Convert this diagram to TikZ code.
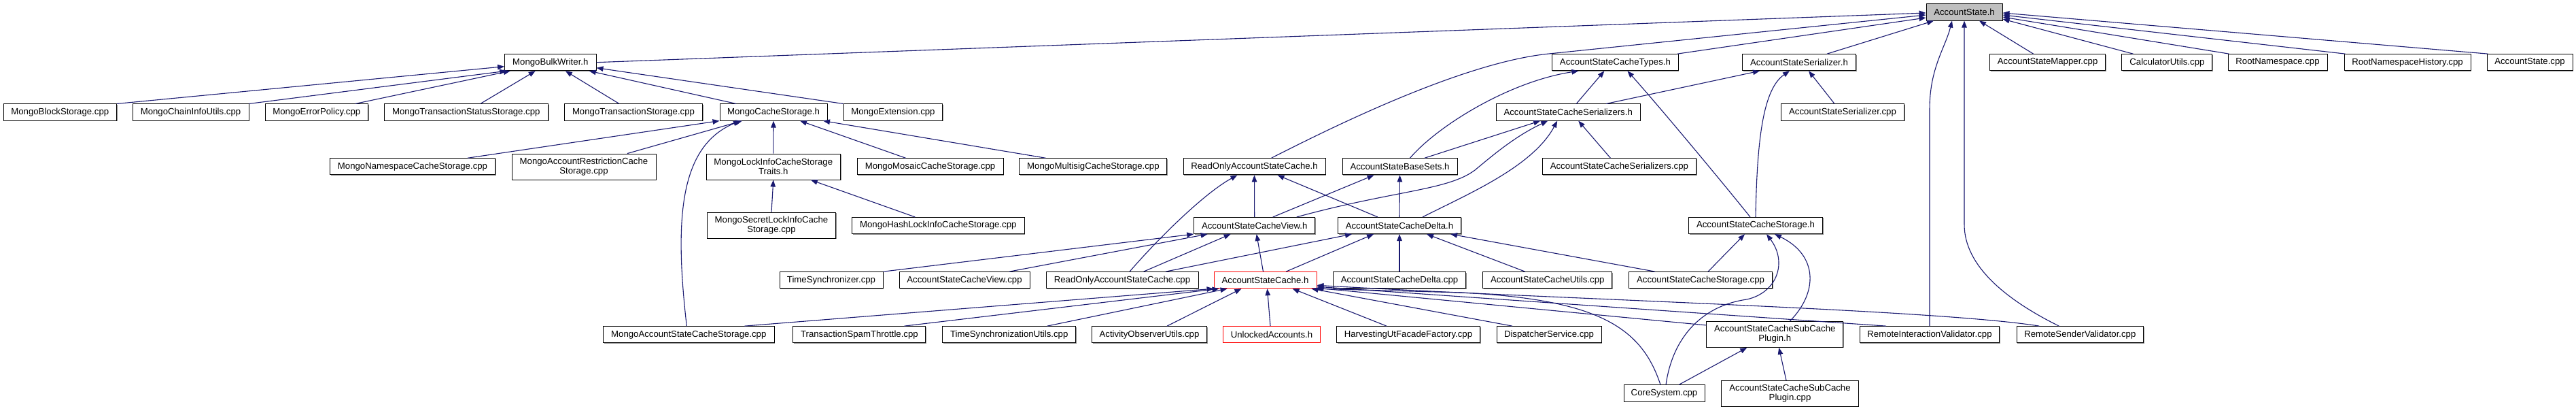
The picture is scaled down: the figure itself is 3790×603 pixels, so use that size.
\documentclass[tikz,border=0pt]{standalone}
\usepackage{fontspec}
\setmainfont{Liberation Sans}
\usetikzlibrary{arrows.meta,shadows}
\definecolor{edgeblue}{RGB}{25,25,112}
\definecolor{rootgray}{RGB}{191,191,191}
\tikzset{
  ndplain/.style={draw=black, line width=0.9pt, fill=white, inner sep=0pt,
    minimum height=24.2pt, font=\fontsize{13.2}{14}\selectfont, align=center},
  nd/.style={ndplain, general shadow={fill=black!45, shadow xshift=1pt, shadow yshift=-1pt}},
  ndtwo/.style={nd, minimum height=38pt},
  redn/.style={ndplain, draw=red},
  rootn/.style={nd, fill=rootgray},
  conn/.style={draw=edgeblue, line width=1.1pt, -{Triangle[length=10pt,width=7.5pt]}}
}
\begin{document}
\begin{tikzpicture}[x=1pt,y=-1pt]
\useasboundingbox (0,0) rectangle (3790,603);
% row 0
\node[rootn, minimum width=112pt] (root) at (2890,18) {AccountState.h};
% row 1
\node[nd, minimum width=134.5pt] (bulk) at (809.8,91.7) {MongoBulkWriter.h};
\node[nd, minimum width=186pt] (types) at (2376.4,91.7) {AccountStateCacheTypes.h};
\node[nd, minimum width=167pt] (ser) at (2647,91.7) {AccountStateSerializer.h};
\node[nd, minimum width=170pt] (mapper) at (3012.6,91.7) {AccountStateMapper.cpp};
\node[nd, minimum width=133pt] (calc) at (3188.4,91.7) {CalculatorUtils.cpp};
\node[nd, minimum width=146pt] (rootns) at (3351,91.7) {RootNamespace.cpp};
\node[nd, minimum width=186pt] (rootnsh) at (3542,91.7) {RootNamespaceHistory.cpp};
\node[nd, minimum width=126pt] (ascpp) at (3722,91.7) {AccountState.cpp};
% row 2
\node[nd, minimum width=166.5pt] (mblock) at (88.3,165) {MongoBlockStorage.cpp};
\node[nd, minimum width=171pt] (mchain) at (280.5,165) {MongoChainInfoUtils.cpp};
\node[nd, minimum width=151.5pt] (merr) at (465.8,165) {MongoErrorPolicy.cpp};
\node[nd, minimum width=241.6pt] (mtss) at (685.8,165) {MongoTransactionStatusStorage.cpp};
\node[nd, minimum width=203pt] (mts) at (932,165) {MongoTransactionStorage.cpp};
\node[nd, minimum width=158pt] (mcache) at (1138,165) {MongoCacheStorage.h};
\node[nd, minimum width=145.7pt] (mext) at (1313.9,165) {MongoExtension.cpp};
\node[nd, minimum width=212.4pt] (sers) at (2307.2,165) {AccountStateCacheSerializers.h};
\node[nd, minimum width=181pt] (sercpp) at (2711,165) {AccountStateSerializer.cpp};
% row 3
\node[nd, minimum width=243pt] (mns) at (607,244.8) {MongoNamespaceCacheStorage.cpp};
\node[ndtwo, minimum width=212pt] (mar) at (859,245) {MongoAccountRestrictionCache\\Storage.cpp};
\node[ndtwo, minimum width=197.5pt] (mlock) at (1137.8,245) {MongoLockInfoCacheStorage\\Traits.h};
\node[nd, minimum width=215pt] (mmos) at (1368.5,244.8) {MongoMosaicCacheStorage.cpp};
\node[nd, minimum width=217pt] (mmul) at (1608.4,244.8) {MongoMultisigCacheStorage.cpp};
\node[nd, minimum width=209pt] (roh) at (1845.5,244.8) {ReadOnlyAccountStateCache.h};
\node[nd, minimum width=169pt] (base) at (2059.5,244.8) {AccountStateBaseSets.h};
\node[nd, minimum width=226.7pt] (serscpp) at (2382.4,244.8) {AccountStateCacheSerializers.cpp};
% row 4
\node[ndtwo, minimum width=189pt] (msecret) at (1135,331) {MongoSecretLockInfoCache\\Storage.cpp};
\node[nd, minimum width=253.5pt] (mhash) at (1380.3,331.5) {MongoHashLockInfoCacheStorage.cpp};
\node[nd, minimum width=178pt] (view) at (1845.7,331.5) {AccountStateCacheView.h};
\node[nd, minimum width=181pt] (delta) at (2059,331.5) {AccountStateCacheDelta.h};
\node[nd, minimum width=197pt] (storage) at (2583,331.5) {AccountStateCacheStorage.h};
% row 5
\node[nd, minimum width=152pt] (tsync) at (1223,411.7) {TimeSynchronizer.cpp};
\node[nd, minimum width=192pt] (viewcpp) at (1419,411.7) {AccountStateCacheView.cpp};
\node[nd, minimum width=224pt] (rocpp) at (1651,411.7) {ReadOnlyAccountStateCache.cpp};
\node[redn, minimum width=151pt] (cache) at (1861.5,411.7) {AccountStateCache.h};
\node[nd, minimum width=195pt] (deltacpp) at (2059,411.7) {AccountStateCacheDelta.cpp};
\node[nd, minimum width=190pt] (utils) at (2276.8,411.7) {AccountStateCacheUtils.cpp};
\node[nd, minimum width=211pt] (storcpp) at (2502,411.7) {AccountStateCacheStorage.cpp};
% row 6
\node[nd, minimum width=251.4pt] (mascs) at (1013.3,491.7) {MongoAccountStateCacheStorage.cpp};
\node[nd, minimum width=195pt] (spam) at (1264.4,491.7) {TransactionSpamThrottle.cpp};
\node[nd, minimum width=196pt] (tsu) at (1484.7,491.7) {TimeSynchronizationUtils.cpp};
\node[nd, minimum width=169pt] (aou) at (1691,491.7) {ActivityObserverUtils.cpp};
\node[redn, minimum width=143.5pt] (unl) at (1871,491.7) {UnlockedAccounts.h};
\node[nd, minimum width=211pt] (harv) at (2072,491.7) {HarvestingUtFacadeFactory.cpp};
\node[nd, minimum width=154pt] (disp) at (2279,491.7) {DispatcherService.cpp};
\node[ndtwo, minimum width=201pt] (subh) at (2611.3,491.4) {AccountStateCacheSubCache\\Plugin.h};
\node[nd, minimum width=205.7pt] (riv) at (2839,491.7) {RemoteInteractionValidator.cpp};
\node[nd, minimum width=186.6pt] (rsv) at (3060.3,491.7) {RemoteSenderValidator.cpp};
% row 7
\node[nd, minimum width=119pt] (core) at (2448.5,578) {CoreSystem.cpp};
\node[ndtwo, minimum width=201.7pt] (subcpp) at (2633.5,578.3) {AccountStateCacheSubCache\\Plugin.cpp};

% edges to root
\draw[conn] (bulk.east) -- ([yshift=-1pt]root.west);
\draw[conn] ([xshift=25pt]roh.north) .. controls (1950,192) and (2149,92) .. (2279,79) -- ([yshift=-4pt]root.west);
\draw[conn] ([xshift=-2pt]types.north east) -- ([yshift=-8pt]root.west);
\draw[conn] ([xshift=41pt]ser.north) -- ([xshift=-45pt]root.south);
\draw[conn] (riv.north) -- (2839,160) .. controls (2839,100) and (2862,70) .. ([xshift=-18pt]root.south);
\draw[conn] ([xshift=-31pt]rsv.north) .. controls (2950,440) and (2890,390) .. (2890,330) -- (root.south);
\draw[conn] ([xshift=-21pt]mapper.north) -- ([xshift=22pt]root.south);
\draw[conn] ([xshift=-50pt]calc.north) -- ([yshift=-10pt]root.east);
\draw[conn] ([xshift=2pt]rootns.north west) -- ([yshift=-7pt]root.east);
\draw[conn] ([xshift=2pt]rootnsh.north west) -- ([yshift=-4pt]root.east);
\draw[conn] ([xshift=2pt]ascpp.north west) -- ([yshift=-1pt]root.east);
% edges to bulk
\draw[conn] (mblock.north east) -- ([yshift=-6pt]bulk.west);
\draw[conn] (mchain.north east) -- ([xshift=3pt]bulk.south west);
\draw[conn] ([xshift=57pt]merr.north) -- ([xshift=-59pt]bulk.south);
\draw[conn] ([xshift=21pt]mtss.north) -- ([xshift=-22pt]bulk.south);
\draw[conn] ([xshift=-21pt]mts.north) -- ([xshift=22pt]bulk.south);
\draw[conn] ([xshift=-55pt]mcache.north) -- ([xshift=57pt]bulk.south);
\draw[conn] (mext.north west) -- ([yshift=-8pt]bulk.east);
% edges to mcache
\draw[conn] ([xshift=81pt]mns.north) -- (mcache.south west);
\draw[conn] ([xshift=64pt]mar.north) -- ([xshift=-46pt]mcache.south);
\draw[conn] ([xshift=-3pt]mascs.north) .. controls (992,320) and (1000,215) .. ([xshift=-49pt]mcache.south);
\draw[conn] (mlock.north) -- (mcache.south);
\draw[conn] ([xshift=-36pt]mmos.north) -- ([xshift=39pt]mcache.south);
\draw[conn] ([xshift=-70pt]mmul.north) -- ([xshift=73pt]mcache.south);
% edges to mlock
\draw[conn] (msecret.north) -- (mlock.south);
\draw[conn] ([xshift=-34pt]mhash.north) -- ([xshift=55pt]mlock.south);
% edges to roh
\draw[conn] ([xshift=11pt]rocpp.north) .. controls (1700,355) and (1770,285) .. ([xshift=-25pt]roh.south);
\draw[conn] (view.north) -- (roh.south);
\draw[conn] ([xshift=-32pt]delta.north) -- ([xshift=34pt]roh.south);
% edges to types
\draw[conn] ([xshift=15pt]base.north) .. controls (2115,185) and (2220,120) .. ([xshift=-54pt]types.south);
\draw[conn] ([xshift=12pt]sers.north) -- ([xshift=-16pt]types.south);
\draw[conn] ([xshift=-8pt]storage.north) .. controls (2540,275) and (2440,155) .. ([xshift=18pt]types.south);
% edges to ser
\draw[conn] ([xshift=56pt]sers.north) -- ([xshift=-58pt]ser.south);
\draw[conn] ([xshift=-12pt]sercpp.north) -- ([xshift=14pt]ser.south);
\draw[conn] (storage.north) .. controls (2585,200) and (2595,130) .. ([xshift=-14pt]ser.south);
% edges to sers
\draw[conn] ([xshift=36.5pt]base.north) -- ([xshift=-41pt]sers.south);
\draw[conn] ([xshift=-13pt]serscpp.north) -- ([xshift=15pt]sers.south);
\draw[conn] ([xshift=62pt]view.north) .. controls (2050,280) and (2130,280) .. (2170,250) .. controls (2200,225) and (2230,200) .. ([xshift=-30pt]sers.south);
\draw[conn] ([xshift=34pt]delta.north) .. controls (2160,285) and (2255,245) .. ([xshift=-16pt]sers.south);
% edges to base
\draw[conn] ([xshift=27pt]view.north) -- ([xshift=-38pt]base.south);
\draw[conn] (delta.north) -- (base.south);
% edges to delta
\draw[conn] ([xshift=30.5pt]cache.north) -- ([xshift=-38pt]delta.south);
\draw[conn] ([xshift=64pt]rocpp.north) -- ([xshift=-70pt]delta.south);
\draw[conn] (deltacpp.north) -- (delta.south);
\draw[conn] ([xshift=-33pt]utils.north) -- ([xshift=40pt]delta.south);
\draw[conn] ([xshift=-67pt]storcpp.north) -- ([xshift=75pt]delta.south);
% edges to view
\draw[conn] (tsync.north east) -- (view.south west);
\draw[conn] ([xshift=66pt]viewcpp.north) -- ([xshift=-69pt]view.south);
\draw[conn] ([xshift=31.5pt]rocpp.north) -- ([xshift=-35pt]view.south);
\draw[conn] ([xshift=-3pt]cache.north) -- ([xshift=3pt]view.south);
% edges to storage
\draw[conn] ([xshift=11pt]storcpp.north) -- ([xshift=-16pt]storage.south);
\draw[conn] ([xshift=2.5pt]core.north) .. controls (2460,500) and (2500,450) .. (2570,440) .. controls (2615,430) and (2630,385) .. ([xshift=16pt]storage.south);
\draw[conn] ([xshift=22pt]subh.north) .. controls (2675,430) and (2675,375) .. ([xshift=28pt]storage.south);
% edges to cache
\draw[conn] ([xshift=82pt]mascs.north) -- (cache.south west);
\draw[conn] ([xshift=66pt]spam.north) -- ([xshift=8pt]cache.south west);
\draw[conn] ([xshift=56pt]tsu.north) -- ([xshift=20pt]cache.south west);
\draw[conn] ([xshift=26pt]aou.north) -- ([xshift=-35pt]cache.south);
\draw[conn] ([xshift=-2pt]unl.north) -- ([xshift=3pt]cache.south);
\draw[conn] ([xshift=-32pt]harv.north) -- ([xshift=40pt]cache.south);
\draw[conn] ([xshift=-54pt]disp.north) -- ([xshift=-8pt]cache.south east);
\draw[conn] ([xshift=-5.5pt]core.north) .. controls (2415,480) and (2350,440) .. (2150,430) -- ([xshift=-2pt]cache.south east);
\draw[conn] ([yshift=-6pt]subh.north west) -- ([yshift=1pt]cache.south east);
\draw[conn] ([xshift=-64pt]riv.north) -- ([yshift=3pt]cache.south east);
\draw[conn] ([xshift=-60pt]rsv.north) .. controls (2850,455) and (2300,440) .. ([yshift=5pt]cache.south east);
% edges to subh
\draw[conn] ([xshift=21.5pt]core.north) -- ([xshift=-41pt]subh.south);
\draw[conn] ([xshift=-5.5pt]subcpp.north) -- ([xshift=6pt]subh.south);
\end{tikzpicture}
\end{document}
